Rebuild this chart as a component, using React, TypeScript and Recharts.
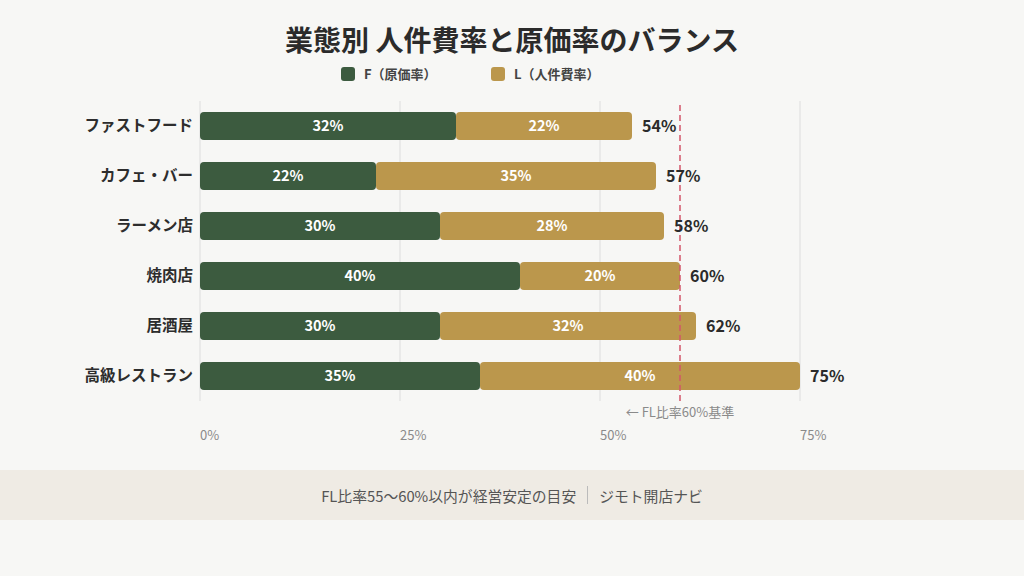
import React from 'react';
import {
  BarChart, Bar, XAxis, YAxis, CartesianGrid, ReferenceLine, LabelList,
} from 'recharts';

const categories = ['ファストフード', 'カフェ・バー', 'ラーメン店', '焼肉店', '居酒屋', '高級レストラン'];
const foodCost = [32, 22, 30, 40, 30, 35];
const laborCost = [22, 35, 28, 20, 32, 40];
const xTicks = [0, 25, 50, 75];
const flTarget = 60;

const GREEN = '#3c5b3f';
const GOLD = '#bb974c';
const FONT = '"Noto Sans CJK JP", "Noto Sans", sans-serif';

const chartData = categories.map((name, i) => ({
  name,
  f: foodCost[i],
  l: laborCost[i],
  total: foodCost[i] + laborCost[i],
}));

function CategoryTick({ x, y, payload }: any) {
  return (
    <text x={x + 1} y={y} dy={5} textAnchor="end" fontSize={15.5} fontWeight={700} fill="#2d2d2d" fontFamily={FONT}>
      {payload.value}
    </text>
  );
}

function PercentTick({ x, y, payload }: any) {
  return (
    <text x={x} y={y} dy={31} textAnchor="start" fontSize={13} fill="#8a8a8a" fontFamily={FONT}>
      {payload.value}%
    </text>
  );
}

function InnerLabel({ x, y, width, height, value }: any) {
  return (
    <text x={x + width / 2} y={y + height / 2} dy={5} textAnchor="middle" fontSize={14.5} fontWeight={700} fill="#ffffff" fontFamily={FONT}>
      {value}%
    </text>
  );
}

function TotalLabel({ x, y, width, height, index }: any) {
  return (
    <text x={x + width + 10} y={y + height / 2} dy={6} textAnchor="start" fontSize={16} fontWeight={700} fill="#2b2b2b" fontFamily={FONT}>
      {chartData[index].total}%
    </text>
  );
}

function TargetLabel({ viewBox }: any) {
  return (
    <text x={viewBox.x} y={viewBox.y + viewBox.height} dy={16} textAnchor="middle" fontSize={13} fill="#8a8a8a" fontFamily={FONT}>
      ← FL比率60%基準
    </text>
  );
}

function LegendItem({ color, text, left }: { color: string; text: string; left: number }) {
  return (
    <div style={{ position: 'absolute', top: 66, left, display: 'flex', alignItems: 'center', gap: 9 }}>
      <span style={{ width: 14, height: 14, borderRadius: 3, background: color, display: 'inline-block' }} />
      <span style={{ fontSize: 13, fontWeight: 700, color: '#444', lineHeight: '16px' }}>{text}</span>
    </div>
  );
}

export default function App() {
  return (
    <div style={{ position: 'absolute', left: 0, top: 0, width: 1024, height: 576, background: '#f7f7f5', fontFamily: FONT, overflow: 'hidden' }}>
      <div style={{ position: 'absolute', top: 19, left: 0, width: 1024, textAlign: 'center', fontSize: 28, fontWeight: 700, color: '#2b2b2b', lineHeight: '40px' }}>
        業態別 人件費率と原価率のバランス
      </div>
      <LegendItem color={GREEN} text="F（原価率）" left={341} />
      <LegendItem color={GOLD} text="L（人件費率）" left={491} />

      <div style={{ position: 'absolute', top: 0, left: 0 }}>
        <BarChart
          width={1024}
          height={460}
          data={chartData}
          layout="vertical"
          margin={{ top: 101, right: 224, bottom: 29, left: 0 }}
          barSize={28}
        >
          <XAxis
            type="number"
            domain={[0, 75]}
            ticks={xTicks}
            axisLine={false}
            tickLine={false}
            tick={<PercentTick />}
          />
          <YAxis
            type="category"
            dataKey="name"
            width={200}
            axisLine={false}
            tickLine={false}
            tick={<CategoryTick />}
          />
          <Bar dataKey="f" stackId="fl" fill={GREEN} radius={4} isAnimationActive={false}>
            <LabelList dataKey="f" content={<InnerLabel />} />
          </Bar>
          <Bar dataKey="l" stackId="fl" fill={GOLD} radius={4} isAnimationActive={false}>
            <LabelList dataKey="l" content={<InnerLabel />} />
            <LabelList dataKey="total" content={<TotalLabel />} />
          </Bar>
          <CartesianGrid horizontal={false} stroke="#d8d8d8" strokeOpacity={0.55} strokeWidth={1.5} />
          <ReferenceLine
            x={flTarget}
            stroke="#d4566a"
            strokeWidth={1.5}
            strokeDasharray="6 4"
            label={<TargetLabel />}
          />
        </BarChart>
      </div>

      <div style={{ position: 'absolute', top: 470, left: 0, width: 1024, height: 50, background: '#efebe4', display: 'flex', alignItems: 'center', justifyContent: 'center', fontSize: 14.8, color: '#555' }}>
        <span>FL比率55〜60%以内が経営安定の目安</span>
        <span style={{ display: 'inline-block', width: 1, height: 18, background: '#bbb', margin: '0 11px' }} />
        <span>ジモト開店ナビ</span>
      </div>
    </div>
  );
}
